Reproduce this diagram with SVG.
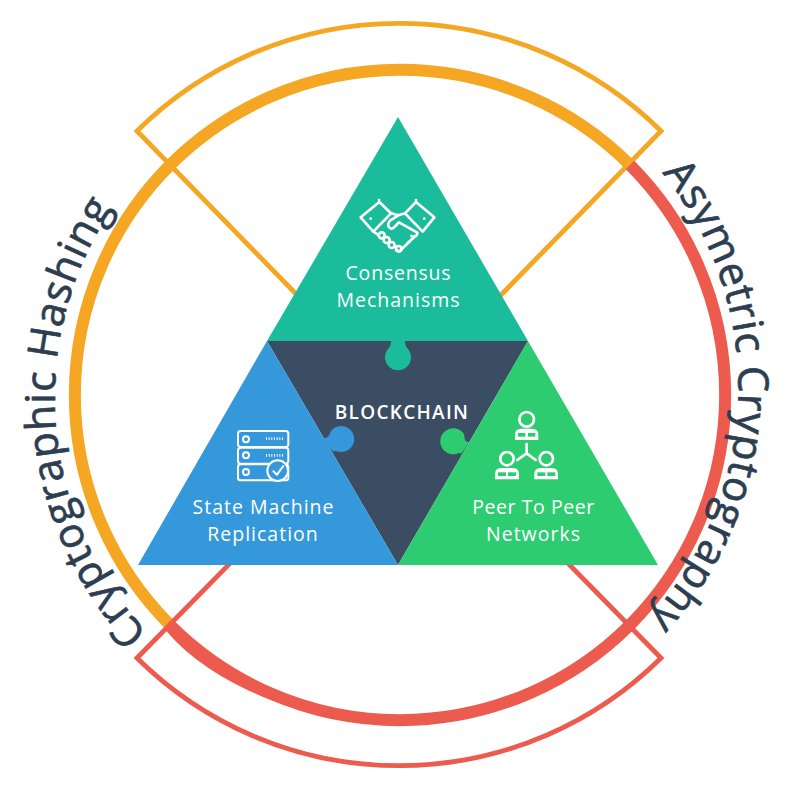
<svg xmlns="http://www.w3.org/2000/svg" xmlns:xlink="http://www.w3.org/1999/xlink" width="794" height="794" viewBox="0 0 794 794">
<style>
.thick{fill:none;stroke-width:12}
.thin{fill:none;stroke-width:4.8;stroke-linejoin:miter}
.or{stroke:#F5A623}
.rd{stroke:#EC5B4E}
.lab{font-family:"Open Sans",sans-serif;font-size:19.5px;fill:#fff;text-anchor:middle;letter-spacing:.8px}
.arc{font-family:"Open Sans",sans-serif;font-size:42px;font-weight:500;fill:#2C3E50;stroke:#2C3E50;stroke-width:.7px;letter-spacing:.7px}
.ic{fill:none;stroke:#fff;stroke-width:8;stroke-linecap:round;stroke-linejoin:round}
</style>
<defs>
<path id="pr" d="M662,173A340,340 0 0 1 591,668"/>
<path id="pl" d="M148,633A343,343 0 0 1 148,163"/>
</defs>
<rect width="794" height="794" fill="#fff"/>
<g id="connectors">
<path class="thin or" d="M300,298L137,131A372.500,372.500 0 0 1 661,131L498,298"/>
<path class="thick or" d="M630,165A323.500,323.500 0 0 0 170,625"/>
<path class="thick rd" d="M630,165A323.500,323.500 0 0 1 170,625"/>
<path d="M164,628C205,680 300,724 400,724A328,328 0 0 1 172,622Z" fill="#EC5B4E"/>
<path class="thin rd" d="M300,492L137,658A372.500,372.500 0 0 0 661,658L498,492"/>
</g>
<g id="node-center">
<path d="M267,341H528L398,565Z" fill="#3B4D63"/>
<text x="402" y="419" font-family="'Open Sans',sans-serif" font-size="19px" font-weight="600" letter-spacing="1.300" fill="#fff" text-anchor="middle">BLOCKCHAIN</text>
</g>
<g id="node-consensus">
<path d="M398,117L528,341H267Z" fill="#1ABC9C"/>
<path d="M391,341C391,345 390,347 388,349A13,13 0 1 0 408,349C406,347 405,345 405,341Z" fill="#1ABC9C"/>
<g transform="translate(330,180) scale(.3333)" class="ic">
<path d="M92,112L148,66L183,100L130,155Z"/>
<path d="M313,112L258,66L225,100L278,155Z"/>
<path d="M183,100L205,106L225,100M205,106L180,122C172,130 172,142 184,146C192,146 198,135 207,127L262,158C262,170 250,172 244,168M254,170L232,190M240,184L216,206M216,206C214,214 204,216 200,210M130,155L147,166"/>
<circle cx="155" cy="166" r="9"/><circle cx="170" cy="180" r="9"/><circle cx="185" cy="195" r="9"/><circle cx="206" cy="206" r="8"/>
<path d="M122,116h.1M283,116h.1M147,60h.1M258,60h.1"/>
</g>
<text class="lab" x="398.500" y="280">Consensus</text>
<text class="lab" x="398.500" y="307" style="letter-spacing:1px">Mechanisms</text>
</g>
<g id="node-state">
<path d="M267,341L398,565H138Z" fill="#3498DB"/>
<path d="M323,438C327,439 329,436 331,431A13,13 0 1 1 336,451C333,451 333,452 335,453L326,444Z" fill="#3498DB"/>
<g transform="translate(180,340) scale(.3333)" class="ic" style="stroke-width:6">
<rect x="174" y="273" width="151" height="48" rx="8"/>
<rect x="174" y="323" width="151" height="48" rx="8"/>
<rect x="174" y="373" width="151" height="48" rx="8"/>
<circle cx="198" cy="298" r="9"/><circle cx="198" cy="346" r="9"/><circle cx="198" cy="396" r="9"/>
<path d="M258,296H310M258,346H310" stroke-dasharray="3 5" stroke-linecap="butt" stroke-width="8"/>
<circle cx="293" cy="392" r="31" fill="#3498DB"/>
<path d="M280,394L291,404L310,378"/>
</g>
<text class="lab" x="263.500" y="514" style="letter-spacing:1px">State Machine</text>
<text class="lab" x="263" y="541" style="letter-spacing:1px">Replication</text>
</g>
<g id="node-peer">
<path d="M528,341L658,565H398Z" fill="#2ECC71"/>
<path d="M469,442C466,441 465,443 464,434A13,13 0 1 0 459,453C462,453 462,454 460,455L466,447Z" fill="#2ECC71"/>
<g transform="translate(400,340) scale(.3333)">
<g class="ic">
<circle cx="380" cy="238" r="22"/><circle cx="321" cy="356" r="20"/><circle cx="439" cy="356" r="20"/>
<path d="M380,312V340L352,360M380,340L407,360"/>
</g>
<g fill="#fff">
<path d="M345,300V285Q345,266 364,266H396Q415,266 415,285V300Z"/>
<path d="M285,418V403Q285,384 304,384H338Q357,384 357,403V418Z"/>
<path d="M403,418V403Q403,384 422,384H455Q474,384 474,403V418Z"/>
</g>
<g fill="#2ECC71">
<rect x="354" y="279" width="22" height="11"/><rect x="384" y="279" width="22" height="11"/>
<rect x="294" y="397" width="24" height="11"/><rect x="324" y="397" width="24" height="11"/>
<rect x="412" y="397" width="24" height="11"/><rect x="442" y="397" width="24" height="11"/>
</g>
</g>
<text class="lab" x="533.500" y="514" style="letter-spacing:.55px">Peer To Peer</text>
<text class="lab" x="533.500" y="541" style="letter-spacing:1px">Networks</text>
</g>
<g id="label-hashing"><text class="arc"><textPath href="#pl" xlink:href="#pl">Cryptographic Hashing</textPath></text></g>
<g id="label-asymetric"><text class="arc"><textPath href="#pr" xlink:href="#pr">Asymetric Cryptography</textPath></text></g>
</svg>
